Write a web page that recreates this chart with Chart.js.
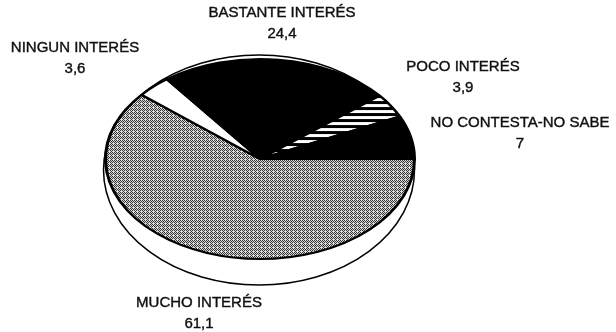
<!DOCTYPE html>
<html>
<head>
<meta charset="utf-8">
<style>
  html, body { margin: 0; padding: 0; background: #fff; }
  #wrap { width: 616px; height: 332px; }
</style>
<script src="https://cdn.jsdelivr.net/npm/chart.js@4"></script>
</head>
<body>
<div id="wrap"><canvas id="pie" width="616" height="332"></canvas></div>
<script>
// ── Data ─────────────────────────────────────────────
const categories = ['MUCHO INTERÉS', 'NINGUN INTERÉS', 'BASTANTE INTERÉS', 'POCO INTERÉS', 'NO CONTESTA-NO SABE'];
const values     = [61.1, 3.6, 24.4, 3.9, 7];

// label centres, same order as categories
const labelX = [199, 75, 282, 463, 520];
const labelY = [303, 48, 13, 67, 123];
const valueGap = 20.5;

// ── Tilt of the disc ─────────────────────────────────
const tilt = 101 / 156;

// ── Fill patterns ────────────────────────────────────
function makePattern(w, h, draw) {
  const c = document.createElement('canvas');
  c.width = w; c.height = h;
  draw(c.getContext('2d'));
  const p = c.getContext('2d').createPattern(c, 'repeat');
  p.setTransform(new DOMMatrix().scale(1, 1 / tilt));
  return p;
}

const stipple = makePattern(4, 4, g => {
  g.fillStyle = '#e4e4e4'; g.fillRect(0, 0, 4, 4);
  g.fillStyle = '#2a2a2a';
  g.fillRect(0, 0, 1, 1); g.fillRect(2, 0, 1, 1);
  g.fillRect(1, 1, 1, 1); g.fillRect(3, 1, 1, 1);
  g.fillRect(0, 2, 1, 1); g.fillRect(2, 2, 1, 1);
  g.fillRect(3, 3, 1, 1);
});
const stripes = makePattern(6, 6, g => {
  g.fillStyle = '#000'; g.fillRect(0, 0, 6, 6);
  g.fillStyle = '#fff'; g.fillRect(0, 0, 6, 3);
});

// ── Disc plugin: squash the arcs and draw the side wall ──
const discPlugin = {
  id: 'disc',
  beforeDatasetsDraw(chart) {
    const { ctx } = chart;
    const arc = chart.getDatasetMeta(0).data[0];
    const r = arc.outerRadius;
    ctx.save();
    ctx.beginPath();
    ctx.ellipse(arc.x - 1, arc.y + 11, r + 1, r * tilt + 15, 0, 0, Math.PI * 2);
    ctx.fillStyle = '#fff';
    ctx.fill();
    ctx.lineWidth = 1.5;
    ctx.strokeStyle = '#000';
    ctx.stroke();
    ctx.restore();
    ctx.save();
    ctx.translate(arc.x, arc.y);
    ctx.scale(1, tilt);
    ctx.translate(-arc.x, -arc.y);
  },
  afterDatasetsDraw(chart) {
    chart.ctx.restore();
    const { ctx } = chart;
    ctx.save();
    ctx.fillStyle = '#111';
    ctx.strokeStyle = '#111';
    ctx.lineWidth = 0.4;
    ctx.font = '15px "Liberation Sans"';
    ctx.textAlign = 'center';
    ctx.textBaseline = 'middle';
    categories.forEach((name, i) => {
      const val = String(values[i]).replace('.', ',');
      ctx.fillText(name, labelX[i], labelY[i]);
      ctx.strokeText(name, labelX[i], labelY[i]);
      ctx.fillText(val, labelX[i], labelY[i] + valueGap);
      ctx.strokeText(val, labelX[i], labelY[i] + valueGap);
    });
    ctx.restore();
  }
};

// ── Pie Chart ────────────────────────────────────────
new Chart(document.getElementById('pie'), {
  type: 'pie',
  data: {
    labels: categories,
    datasets: [{
      data: values,
      backgroundColor: [stipple, '#fff', '#000', stripes, '#000'],
      borderColor: '#000',
      borderWidth: 3
    }]
  },
  options: {
    responsive: false,
    animation: false,
    rotation: 90,
    layout: { padding: { left: 104, right: 200, top: 3, bottom: 17 } },
    plugins: { legend: { display: false }, tooltip: { enabled: false } }
  },
  plugins: [discPlugin]
});
</script>
</body>
</html>
